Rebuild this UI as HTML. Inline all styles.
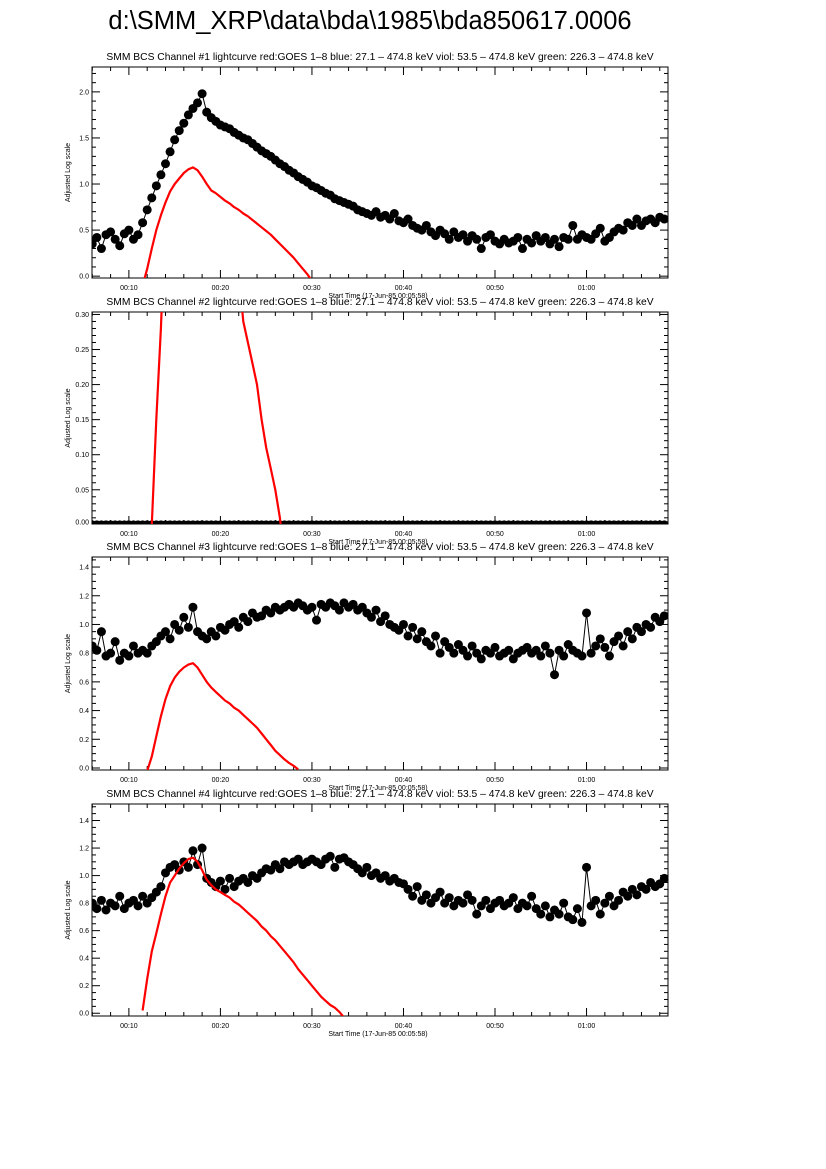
<!DOCTYPE html>
<html><head><meta charset="utf-8">
<style>
body{margin:0;background:#fff;}
svg{display:block;font-family:"Liberation Sans",sans-serif;}
</style></head>
<body>
<svg id="chart" width="826" height="1169" viewBox="0 0 826 1169" xmlns="http://www.w3.org/2000/svg">
<rect width="826" height="1169" fill="#fff"/>
<text x="370" y="29" font-size="25.5" text-anchor="middle" fill="#000">d:\SMM_XRP\data\bda\1985\bda850617.0006</text>
</svg>
<script>
// time grid: 6.0 .. 68.5 minutes, step 0.5
const tStart = 6.0, tStep = 0.5;
const ch1 = [0.35,0.42,0.30,0.45,0.48,0.40,0.33,0.46,0.50,
0.40,0.45,0.58,0.72,0.85,0.98,1.10,1.22,1.35,1.48,1.58,1.66,1.75,1.82,1.88,1.98,
1.78,1.72,1.68,1.64,1.62,1.60,1.56,1.53,1.50,1.48,1.44,1.40,1.36,1.33,1.30,1.26,1.22,1.19,1.15,1.12,1.08,1.05,1.02,0.98,
0.96,0.93,0.90,0.88,0.84,0.82,0.80,0.78,0.76,0.72,0.70,0.68,0.66,0.70,0.64,0.66,0.62,0.68,0.60,0.58,
0.62,0.55,0.52,0.50,0.55,0.48,0.44,0.50,0.46,0.40,0.48,0.42,0.45,0.38,0.44,0.40,0.30,0.42,0.45,0.38,
0.35,0.40,0.36,0.38,0.42,0.30,0.40,0.36,0.44,0.38,0.42,0.35,0.40,0.32,0.42,0.40,0.55,0.40,0.45,0.42,
0.40,0.46,0.52,0.38,0.42,0.48,0.52,0.50,0.58,0.55,0.62,0.55,0.60,0.62,0.58,0.64,0.62];
const ch2 = [0,0,0,0,0,0,0,0,0,0,0,0,0,0,0,0,0,0,0,0,0,0,0,0,0,0,0,0,0,0,0,0,0,0,0,0,0,0,0,0,0,0,0,0,0,0,0,0,0,0,0,0,0,0,0,0,0,0,0,0,0,0,0,0,0,0,0,0,0,0,0,0,0,0,0,0,0,0,0,0,0,0,0,0,0,0,0,0,0,0,0,0,0,0,0,0,0,0,0,0,0,0,0,0,0,0,0,0,0,0,0,0,0,0,0,0,0,0,0,0,0,0,0,0,0,0];
const ch3 = [0.85,0.82,0.95,0.78,0.80,0.88,0.75,0.80,0.78,0.85,0.80,0.82,0.80,
0.85,0.88,0.92,0.95,0.90,1.00,0.96,1.05,0.98,1.12,0.95,0.92,
0.90,0.95,0.92,0.98,0.96,1.00,1.02,0.98,1.05,1.02,1.08,1.05,1.06,1.10,1.08,1.12,1.10,1.12,1.14,1.12,1.15,1.13,1.10,1.12,
1.03,1.14,1.12,1.15,1.13,1.10,1.15,1.12,1.14,1.10,1.12,1.08,1.05,1.10,1.02,1.06,1.00,0.98,0.96,1.00,
0.92,0.98,0.90,0.95,0.88,0.85,0.92,0.80,0.88,0.84,0.80,0.86,0.82,0.78,0.85,0.80,0.76,0.82,0.80,0.84,
0.78,0.80,0.82,0.76,0.80,0.82,0.84,0.80,0.82,0.78,0.85,0.80,0.65,0.82,0.78,0.86,0.82,0.80,0.78,1.08,
0.80,0.85,0.90,0.84,0.78,0.88,0.92,0.85,0.95,0.90,0.98,0.95,1.00,0.98,1.05,1.02,1.06];
const ch4 = [0.80,0.76,0.82,0.75,0.80,0.78,0.85,0.76,0.80,0.82,0.78,0.85,0.80,
0.84,0.88,0.92,1.02,1.06,1.08,1.04,1.10,1.06,1.18,1.08,1.20,
0.98,0.95,0.92,0.96,0.90,0.98,0.92,0.96,0.98,0.95,1.00,0.98,1.02,1.05,1.04,1.08,1.05,1.10,1.08,1.10,1.12,1.08,1.10,1.12,
1.10,1.08,1.12,1.14,1.06,1.12,1.13,1.10,1.08,1.05,1.02,1.06,1.00,1.02,0.98,1.00,0.96,0.98,0.95,0.94,
0.90,0.85,0.92,0.82,0.86,0.80,0.84,0.88,0.80,0.84,0.78,0.82,0.80,0.86,0.82,0.72,0.78,0.82,0.76,0.80,
0.82,0.78,0.80,0.84,0.76,0.80,0.78,0.85,0.76,0.72,0.78,0.70,0.75,0.72,0.80,0.70,0.68,0.76,0.66,1.06,
0.78,0.82,0.72,0.80,0.85,0.78,0.82,0.88,0.85,0.90,0.86,0.92,0.90,0.95,0.92,0.94,0.98];
// GOES red curve: 11.5 .. 33.5 minutes, step 0.5
const gStart = 11.5, gStep = 0.5;
const goes1 = [-0.1,0.08,0.30,0.50,0.66,0.80,0.92,1.00,1.06,1.12,1.16,1.18,1.15,1.08,1.00,0.93,0.90,0.86,0.82,0.79,0.75,0.72,0.68,0.65,0.61,0.57,0.53,0.49,0.45,0.40,0.35,0.30,0.25,0.20,0.14,0.08,0.02,-0.05,null,null,null,null,null,null,null];
const goes2 = [-0.2,-0.1,0.0,0.15,0.28,0.45,0.7,1.0,1.2,1.4,1.5,1.55,1.5,1.4,1.2,1.0,0.9,0.8,0.7,0.6,0.5,0.36,0.29,0.26,0.23,0.20,0.15,0.11,0.08,0.05,0.01,-0.05,null,null,null,null,null,null,null,null,null,null,null,null,null];
const goes3 = [null,-0.02,0.08,0.22,0.36,0.48,0.57,0.63,0.67,0.70,0.72,0.73,0.70,0.65,0.60,0.56,0.53,0.50,0.47,0.45,0.42,0.40,0.37,0.34,0.31,0.28,0.24,0.20,0.16,0.12,0.09,0.06,0.035,0.015,-0.01,null,null,null,null,null,null,null,null,null,null];
const goes4 = [0.02,0.25,0.45,0.58,0.72,0.85,0.95,1.00,1.05,1.09,1.12,1.13,1.10,1.04,0.97,0.93,0.90,0.88,0.86,0.84,0.81,0.79,0.76,0.73,0.70,0.67,0.63,0.60,0.56,0.53,0.49,0.45,0.41,0.37,0.32,0.28,0.24,0.20,0.16,0.12,0.09,0.06,0.04,0.01,-0.03];
const xTickLabels = ["00:10","00:20","00:30","00:40","00:50","01:00"];
const xTickValues = [10,20,30,40,50,60];
const y1Ticks = ["0.0","0.5","1.0","1.5","2.0"];
const y2Ticks = ["0.00","0.05","0.10","0.15","0.20","0.25","0.30"];
const y34Ticks = ["0.0","0.2","0.4","0.6","0.8","1.0","1.2","1.4"];

const NS = "http://www.w3.org/2000/svg";
const svg = document.getElementById('chart');
function mk(tag, attrs, parent){const e=document.createElementNS(NS,tag);for(const k in attrs)e.setAttribute(k,attrs[k]);(parent||svg).appendChild(e);return e;}

const X0=92, X1=668, TMIN=5.97, TMAX=68.9;
function xs(t){return X0+(t-TMIN)/(TMAX-TMIN)*(X1-X0);}

const panels = [
 {n:1, top:67, bot:278, ymin:-0.02, ymax:2.27, ticks:y1Ticks, minor:0.1, data:ch1, goes:goes1},
 {n:2, top:312, bot:524, ymin:0.0012, ymax:0.3035, ticks:y2Ticks, minor:0.01, data:ch2, goes:goes2},
 {n:3, top:557, bot:770, ymin:-0.014, ymax:1.47, ticks:y34Ticks, minor:0.05, data:ch3, goes:goes3},
 {n:4, top:804, bot:1016, ymin:-0.02, ymax:1.52, ticks:y34Ticks, minor:0.05, data:ch4, goes:goes4}
];

panels.forEach(p=>{
  const ys = v => p.bot-(v-p.ymin)/(p.ymax-p.ymin)*(p.bot-p.top);
  const g = mk('g',{});
  
  
  const title = mk('text',{x:380,y:p.top-7,'font-size':10.3,'text-anchor':'middle'},g);
  
  
  title.textContent='SMM BCS Channel #'+p.n+' lightcurve  red:GOES 1\u20138  blue: 27.1 \u2013 474.8 keV  viol: 53.5 \u2013 474.8 keV  green: 226.3 \u2013 474.8 keV';
  const cp = mk('clipPath',{id:'clip'+p.n},g);
  mk('rect',{x:X0,y:p.top,width:X1-X0,height:p.bot-p.top},cp);
  const frame = mk('rect',{x:X0,y:p.top,width:X1-X0,height:p.bot-p.top,fill:'none',stroke:'#000','stroke-width':1},g);
  
  
  for(let m=6;m<=68;m+=2){
    const x=xs(m), L=(m%10===0)?8:4;
    mk('line',{x1:x,y1:p.bot,x2:x,y2:p.bot-L,stroke:'#000'},g);
    mk('line',{x1:x,y1:p.top,x2:x,y2:p.top+L,stroke:'#000'},g);
  }
  xTickValues.forEach((v,i)=>{
    const t=mk('text',{x:xs(v),y:p.bot+12,'font-size':7,'text-anchor':'middle'},g);
    
    
    t.textContent=xTickLabels[i];
  });
  const xt=mk('text',{x:378,y:p.bot+20,'font-size':7,'text-anchor':'middle'},g);
  
  
  xt.textContent='Start Time (17-Jun-85 00:05:58)';
  const maj = parseFloat(p.ticks[1])-parseFloat(p.ticks[0]);
  for(let v=0; v<=p.ymax+1e-9; v+=p.minor){
    const y=Math.min(ys(v),p.bot); const isMaj=Math.abs(v/maj-Math.round(v/maj))<1e-6; const L=isMaj?8:4;
    mk('line',{x1:X0,y1:y,x2:X0+L,y2:y,stroke:'#000'},g);
    mk('line',{x1:X1,y1:y,x2:X1-L,y2:y,stroke:'#000'},g);
  }
  p.ticks.forEach(s=>{
    const t=mk('text',{x:X0-3,y:Math.min(ys(parseFloat(s)),p.bot-2)+2.5,'font-size':7,'text-anchor':'end'},g);
    
    
    t.textContent=s;
  });
  const cy=(p.top+p.bot)/2;
  const yt=mk('text',{x:70,y:cy,'font-size':7,'text-anchor':'middle',transform:'rotate(-90 70 '+cy+')'},g);
  
  
  yt.textContent='Adjusted Log scale';
  const dg = mk('g',{'clip-path':'url(#clip'+p.n+')'},g);
  let d='';
  p.data.forEach((v,i)=>{d+=(i?'L':'M')+xs(tStart+i*tStep).toFixed(1)+','+ys(v).toFixed(1);});
  const ln=mk('path',{d:d,fill:'none',stroke:'#000','stroke-width':1},dg);
  
  
  p.data.forEach((v,i)=>{
    const c=mk('circle',{cx:xs(tStart+i*tStep),cy:ys(v),r:4.5,fill:'#000'},dg);
    
    
  });
  let gd='', pen=false;
  p.goes.forEach((v,i)=>{
    if(v===null){pen=false;return;}
    gd+=(pen?'L':'M')+xs(gStart+i*gStep).toFixed(1)+','+ys(v).toFixed(1); pen=true;
  });
  const gl=mk('path',{d:gd,fill:'none',stroke:'#ff0000','stroke-width':2.2,'stroke-linejoin':'round'},dg);
  
  
});
</script>
</body></html>
